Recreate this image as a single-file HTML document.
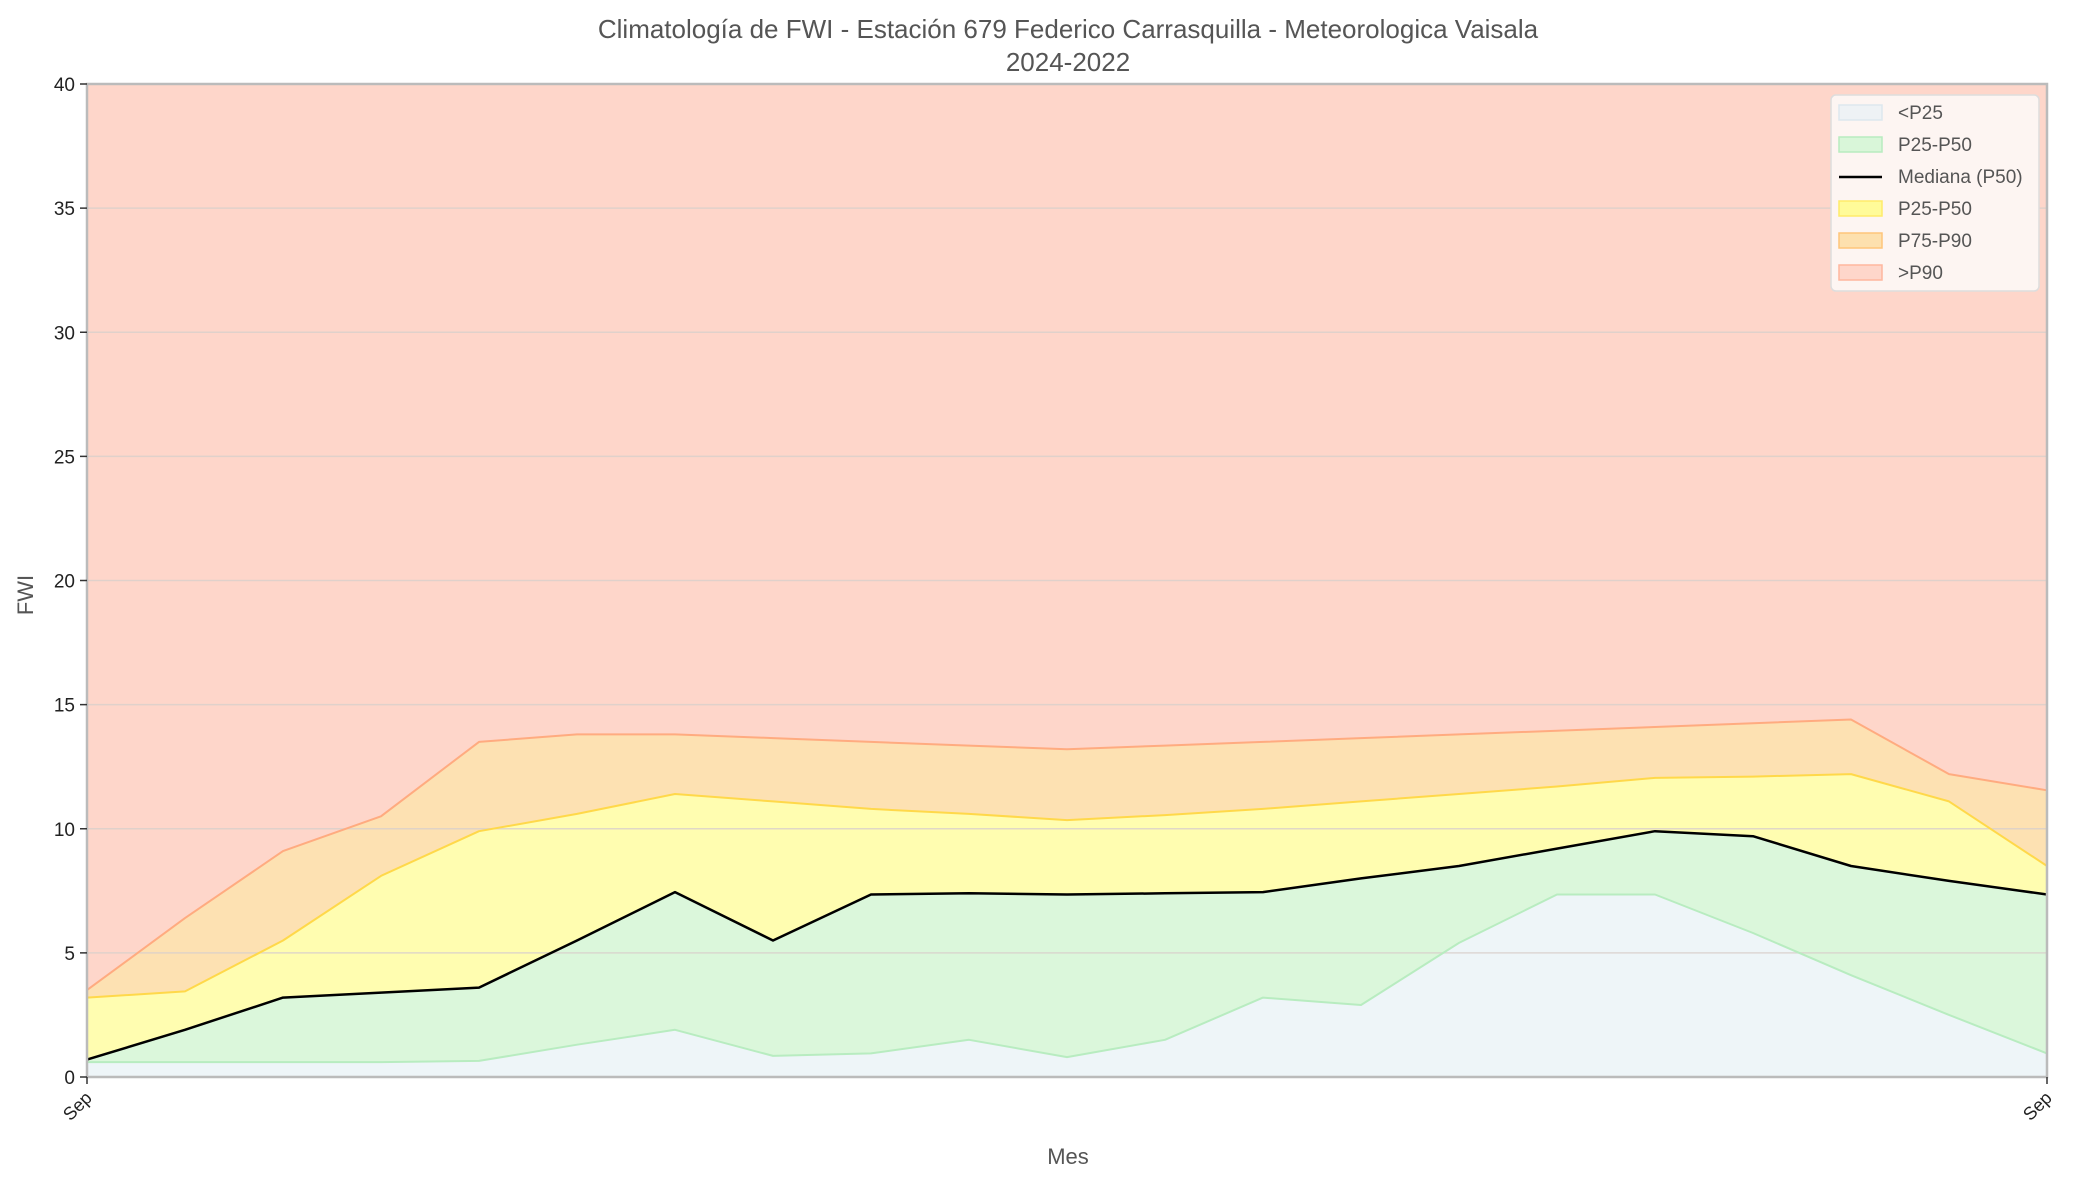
<!DOCTYPE html>
<html><head><meta charset="utf-8">
<style>
body{margin:0;background:#fff;}
svg{display:block;font-family:"Liberation Sans","DejaVu Sans",sans-serif;}
</style></head>
<body>
<svg id="chart" width="2084" height="1182" viewBox="0 0 2084 1182">
<text x="1068" y="38" text-anchor="middle" font-size="26" fill="#555">Climatología de FWI - Estación 679 Federico Carrasquilla - Meteorologica Vaisala</text>
<text x="1068" y="71" text-anchor="middle" font-size="26" fill="#555">2024-2022</text>
<text x="33" y="595" text-anchor="middle" font-size="22" fill="#555" transform="rotate(-90 33 595)">FWI</text>
<text x="1068" y="1164" text-anchor="middle" font-size="22" fill="#555">Mes</text>
<g id="plot"></g>
</svg>
<script>
const xLabels = ["Sep","","","","","","","","","","","","","","","","","","","","Sep"];
const p25 = [0.6,0.6,0.6,0.6,0.65,1.3,1.9,0.85,0.95,1.5,0.8,1.5,3.2,2.9,5.4,7.35,7.35,5.8,4.1,2.5,0.95];
const p50 = [0.7,1.9,3.2,3.4,3.6,5.5,7.45,5.5,7.35,7.4,7.35,7.4,7.45,8.0,8.5,9.2,9.9,9.7,8.5,7.9,7.35];
const p75 = [3.2,3.45,5.5,8.1,9.9,10.6,11.4,11.1,10.8,10.6,10.35,10.55,10.8,11.1,11.4,11.7,12.05,12.1,12.2,11.1,8.5];
const p90 = [3.5,6.4,9.1,10.5,13.5,13.8,13.8,13.65,13.5,13.35,13.2,13.35,13.5,13.65,13.8,13.95,14.1,14.25,14.4,12.2,11.55];
const yTicks = [0,5,10,15,20,25,30,35,40];
const yMax = 40;

const L=87,R=2047,T=84,B=1077;
const NS="http://www.w3.org/2000/svg";
const g=document.getElementById('plot');
const xs=i=>L+(R-L)*i/(p50.length-1);
const ys=v=>B-(B-T)*v/yMax;
function mk(tag,attrs){const e=document.createElementNS(NS,tag);for(const k in attrs)e.setAttribute(k,attrs[k]);g.appendChild(e);return e;}
function pts(arr){return arr.map((v,i)=>xs(i).toFixed(1)+','+ys(v).toFixed(1));}
function band(lo,hi,fill,name){
  const top=pts(hi);
  const bot=lo?pts(lo).reverse():[R+','+B,L+','+B];
  const e=mk('polygon',{points:top.concat(bot).join(' '),fill:fill});
  
  
}
function line(arr,stroke,w,name){
  const e=mk('polyline',{points:pts(arr).join(' '),fill:'none',stroke:stroke,'stroke-width':w,'stroke-linejoin':'round'});
  
  
}
const top40=p50.map(()=>yMax);
band(p90,top40,'#fed6ca','band-above-p90');
band(p75,p90,'#fde1b2','band-p75-p90');
band(p50,p75,'#fffdb0','band-p50-p75');
band(p25,p50,'#dbf7db','band-p25-p50');
band(null,p25,'#eef5f8','band-below-p25');
yTicks.forEach(v=>{
  const e=mk('line',{x1:L,x2:R,y1:ys(v),y2:ys(v),stroke:'#d9d0cc','stroke-width':1.5,opacity:0.8});
  
  
});
line(p25,'#b8ecc0',2,'p25-line');
line(p75,'#ffd84a',2,'p75-line');
line(p90,'#ffab80',2,'p90-line');
line(p50,'#000',2.5,'median-line');
const fr=mk('rect',{x:L,y:T,width:R-L,height:B-T,fill:'none',stroke:'#bbb','stroke-width':2.5});


yTicks.forEach(v=>{
  const t=mk('line',{x1:L-7,x2:L,y1:ys(v),y2:ys(v),stroke:'#333','stroke-width':1.5});
  
  
  const tx=mk('text',{x:L-12,y:ys(v)+7,'text-anchor':'end','font-size':19,fill:'#222'});
  tx.textContent=v;
  
  
});
xLabels.forEach((lab,i)=>{
  if(!lab)return;
  const x=xs(i);
  const t=mk('line',{x1:x,x2:x,y1:B,y2:B+7,stroke:'#333','stroke-width':1.5});
  
  
  const tx=mk('text',{x:x+6,y:B+22,'text-anchor':'end','font-size':18,fill:'#222',transform:`rotate(-45 ${x+6} ${B+22})`});
  tx.textContent=lab;
  
  
});
const lg=mk('rect',{x:1831,y:95,width:208,height:196,rx:5,fill:'#fdf5f2',stroke:'#ddd','stroke-width':1.5});


const legItems=[["<P25",'#eef2f5','#dde8ee'],["P25-P50",'#d9f6d9','#b8ecc0'],["Mediana (P50)",null,null],["P25-P50",'#fffb99','#ffeb6a'],["P75-P90",'#fde0ae','#ffc57a'],[">P90",'#fed6ca','#ffb79e']];
legItems.forEach((it,k)=>{
  const cy=112+k*32;
  if(it[1]){
    const s=mk('rect',{x:1839,y:cy-7,width:43,height:15,fill:it[1],stroke:it[2],'stroke-width':1.5});
    
    
  } else {
    const s=mk('line',{x1:1839,x2:1882,y1:cy+1,y2:cy+1,stroke:'#000','stroke-width':2.5});
    
    
  }
  const tx=mk('text',{x:1898,y:cy+7,'font-size':19,fill:'#555'});
  tx.textContent=it[0];
  
  
});
</script>
</body></html>
